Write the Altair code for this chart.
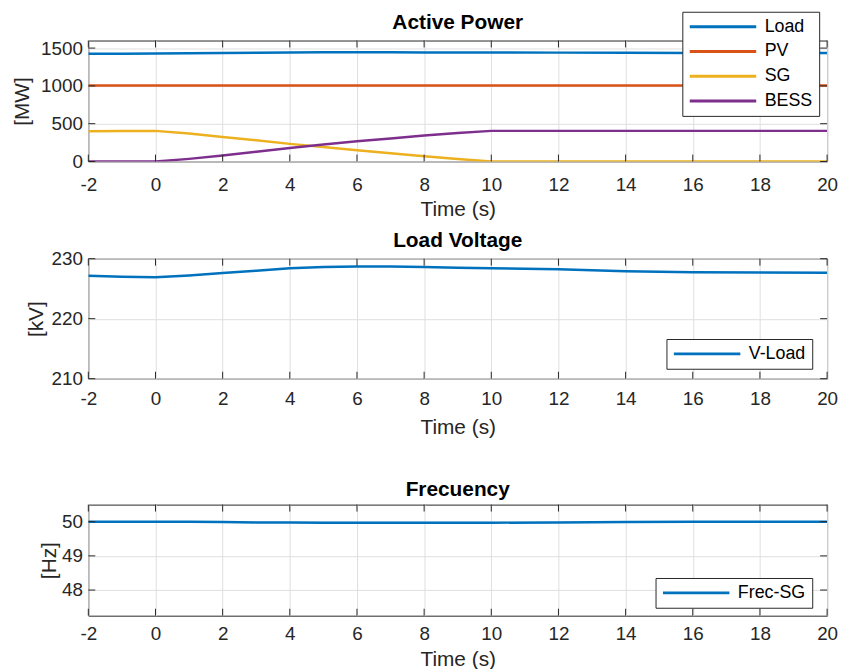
import altair as alt
import pandas as pd

FONT = "Liberation Sans"
DARK = "#262626"
GRID = "#dfdfdf"

# ---------------- data ----------------
time_s = [-2, -1, 0, 1, 2, 3, 4, 5, 6, 7, 8, 9, 10, 12, 14, 16, 18, 20]

load_mw = [1425, 1426, 1428, 1431, 1435, 1439, 1442, 1444, 1445, 1444, 1443, 1442, 1442, 1440, 1438, 1436, 1435, 1434]
pv_mw = [1005, 1005, 1005, 1005, 1005, 1005, 1005, 1005, 1005, 1005, 1005, 1005, 1005, 1005, 1005, 1005, 1005, 1005]
sg_mw = [400, 402, 405, 370, 325, 280, 233, 192, 150, 110, 70, 32, 0, 0, 0, 0, 0, 0]
bess_mw = [0, 0, 0, 35, 79, 130, 180, 225, 268, 305, 343, 378, 405, 405, 405, 405, 405, 405]

v_load_kv = [227.15, 227.0, 226.9, 227.2, 227.6, 228.0, 228.4, 228.6, 228.7, 228.7, 228.6, 228.5, 228.4, 228.25, 227.9, 227.75, 227.7, 227.65]
frec_sg_hz = [50.0, 50.0, 50.0, 50.0, 49.99, 49.98, 49.98, 49.97, 49.97, 49.97, 49.97, 49.97, 49.97, 49.98, 49.99, 50.0, 50.0, 50.0]

x_ticks = [-2, 0, 2, 4, 6, 8, 10, 12, 14, 16, 18, 20]
x_domain = [-2, 20]

p1_series = ["Load", "PV", "SG", "BESS"]
p1_colors = ["#0072BD", "#D95319", "#EDB120", "#7E2F8E"]
p1_yticks = [0, 500, 1000, 1500]
p1_ydomain = [0, 1600]

p2_series = ["V-Load"]
p2_colors = ["#0072BD"]
p2_yticks = [210, 220, 230]
p2_ydomain = [210, 230]

p3_series = ["Frec-SG"]
p3_colors = ["#0072BD"]
p3_yticks = [48, 49, 50]
p3_ydomain = [47.25, 50.5]

titles = ["Active Power", "Load Voltage", "Frecuency"]
y_titles = ["[MW]", "[kV]", "[Hz]"]
x_title = "Time (s)"

W = 745


def long_df(series_names, value_lists):
    rows = []
    for name, vals in zip(series_names, value_lists):
        for t, v in zip(time_s, vals):
            rows.append({"t": t, "v": v, "series": name})
    return pd.DataFrame(rows)


def panel(df, names, colors, ydomain, yticks, ytitle, title, h,
          leg_x, leg_y, top_ext, bot_ext, title_dy, ytitle_pad,
          xlabel_pad, xtitle_pad):
    xscale = alt.Scale(domain=x_domain, nice=False, zero=False)
    yscale = alt.Scale(domain=ydomain, nice=False, zero=False)
    xaxis = alt.Axis(values=x_ticks, title=x_title, grid=True, gridColor=GRID,
                     tickSize=0, domain=False, labelFont=FONT, labelFontSize=19,
                     labelColor=DARK, labelPadding=xlabel_pad, labelFlush=False,
                     labelOverlap=False, labelExpr="datum.value + ''",
                     titleFont=FONT, titleFontSize=21, titleFontWeight="normal",
                     titleColor=DARK, titlePadding=xtitle_pad)
    yaxis = alt.Axis(values=yticks, title=ytitle, grid=True, gridColor=GRID,
                     tickSize=0, domain=False, labelFont=FONT, labelFontSize=19,
                     labelColor=DARK, labelPadding=6, labelFlush=False,
                     labelOverlap=False, labelExpr="datum.value + ''",
                     titleFont=FONT, titleFontSize=21, titleFontWeight="normal",
                     titleColor=DARK, titlePadding=ytitle_pad)
    legend = alt.Legend(title=None, orient="none", legendX=leg_x, legendY=leg_y,
                        symbolType="stroke", symbolSize=4489, symbolStrokeWidth=3,
                        labelFont=FONT, labelFontSize=18, labelColor="#000",
                        strokeColor=DARK, fillColor="white", padding=6,
                        rowPadding=7, labelOffset=7, clipHeight=18)

    lines = alt.Chart(df).mark_line(strokeWidth=2.5, clip=True).encode(
        x=alt.X("t:Q", scale=xscale, axis=xaxis),
        y=alt.Y("v:Q", scale=yscale, axis=yaxis),
        color=alt.Color("series:N", scale=alt.Scale(domain=names, range=colors),
                        legend=legend),
        detail="series:N",
    )

    xt = pd.DataFrame({"t": x_ticks})
    yt = pd.DataFrame({"v": yticks})
    tick_bottom = alt.Chart(xt).mark_rule(color=DARK, strokeWidth=1).encode(
        x=alt.X("t:Q"), y=alt.value(h - 7), y2=alt.value(h))
    tick_top = alt.Chart(xt).mark_rule(color=DARK, strokeWidth=1).encode(
        x=alt.X("t:Q"), y=alt.value(0), y2=alt.value(7))
    tick_left = alt.Chart(yt).mark_rule(color=DARK, strokeWidth=1).encode(
        y=alt.Y("v:Q"), x=alt.value(0), x2=alt.value(7))
    tick_right = alt.Chart(yt).mark_rule(color=DARK, strokeWidth=1).encode(
        y=alt.Y("v:Q"), x=alt.value(W - 7), x2=alt.value(W))

    ttl = alt.Chart(pd.DataFrame({"label": [title]})).mark_text(
        font=FONT, fontSize=21, fontWeight="bold", color="#000",
        align="center", baseline="middle").encode(
        x=alt.value(W / 2), y=alt.value(title_dy), text="label:N")

    bound = alt.Chart(pd.DataFrame({"k": [0]})).mark_rule(opacity=0).encode(
        x=alt.value(-80), x2=alt.value(W), y=alt.value(-top_ext),
        y2=alt.value(h + bot_ext))

    return alt.layer(lines, tick_bottom, tick_top, tick_left, tick_right, ttl,
                     bound).properties(width=W, height=h)


df1 = long_df(p1_series, [load_mw, pv_mw, sg_mw, bess_mw])
df2 = long_df(p2_series, [v_load_kv])
df3 = long_df(p3_series, [frec_sg_hz])

c1 = panel(df1, p1_series, p1_colors, p1_ydomain, p1_yticks, y_titles[0], titles[0],
           122, 599, -29, 32, 60, -18, 8, 14, 4)
c2 = panel(df2, p2_series, p2_colors, p2_ydomain, p2_yticks, y_titles[1], titles[1],
           121, 583, 81, 36, 95, -18, 5, 11, 8)
c3 = panel(df3, p3_series, p3_colors, p3_ydomain, p3_yticks, y_titles[2], titles[2],
           112, 572, 74, 30, 0, -15, 2, 9, 5)

chart = alt.vconcat(c1, c2, c3, spacing=0).resolve_scale(
    color="independent").resolve_legend(color="independent").properties(
    padding={"left": 0, "top": -3, "right": 0, "bottom": 0}
).configure_view(stroke=DARK, strokeWidth=1)

chart.save("out.html", embed_options={"renderer": "svg", "actions": False})
